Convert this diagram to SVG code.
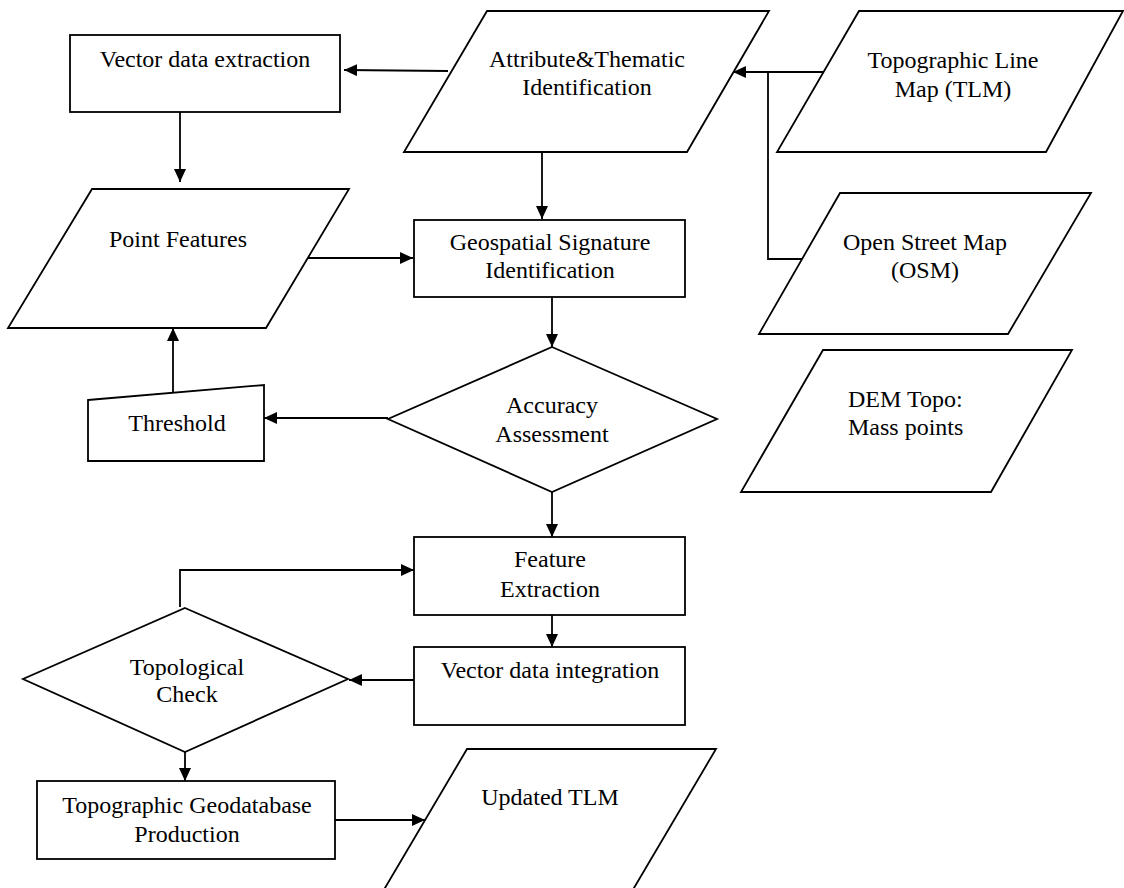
<svg xmlns="http://www.w3.org/2000/svg" width="1124" height="888" viewBox="0 0 1124 888">
<style>
.s{fill:#fff;stroke:#000;stroke-width:1.8}
.t{font-family:"Liberation Serif","Times New Roman",serif;font-size:24px;fill:#000;text-anchor:middle}
.c{fill:none;stroke:#000;stroke-width:1.8}
</style>
<defs>
<marker id="a" markerUnits="userSpaceOnUse" markerWidth="13" markerHeight="12" refX="13" refY="6" orient="auto">
<path d="M0,0 L13,6 L0,12 z" fill="#000"/>
</marker>
</defs>
<rect width="1124" height="888" fill="#fff"/>
<g id="vector-data-extraction">
<rect class="s" x="70" y="35" width="270" height="77"/>
<text class="t" x="205" y="67">Vector data extraction</text>
</g>
<g id="attribute-thematic">
<polygon class="s" points="487,11 769,11 687,152 404,152"/>
<text class="t" x="587" y="67">Attribute&amp;Thematic</text>
<text class="t" x="587" y="95">Identification</text>
</g>
<g id="tlm">
<polygon class="s" points="859,11 1123,11 1046,152 777,152"/>
<text class="t" x="953" y="68">Topographic Line</text>
<text class="t" x="953" y="97">Map (TLM)</text>
</g>
<g id="point-features">
<polygon class="s" points="92,189 349,189 266,328 8,328"/>
<text class="t" x="178" y="247">Point Features</text>
</g>
<g id="geospatial-signature">
<rect class="s" x="414" y="220" width="271" height="77"/>
<text class="t" x="550" y="250">Geospatial Signature</text>
<text class="t" x="550" y="278">Identification</text>
</g>
<g id="osm">
<polygon class="s" points="840,193 1091,193 1008,334 759,334"/>
<text class="t" x="925" y="250">Open Street Map</text>
<text class="t" x="925" y="278">(OSM)</text>
</g>
<g id="dem">
<polygon class="s" points="823,350 1072,350 991,492 741,492"/>
<text class="t" x="848" y="407" style="text-anchor:start">DEM Topo:</text>
<text class="t" x="848" y="435" style="text-anchor:start">Mass points</text>
</g>
<g id="threshold">
<polygon class="s" points="88,400 264,385 264,461 88,461"/>
<text class="t" x="177" y="431">Threshold</text>
</g>
<g id="accuracy-assessment">
<polygon class="s" points="552,347 717,419 552,492 388,419"/>
<text class="t" x="552" y="413">Accuracy</text>
<text class="t" x="552" y="442">Assessment</text>
</g>
<g id="feature-extraction">
<rect class="s" x="414" y="537" width="271" height="78"/>
<text class="t" x="550" y="567">Feature</text>
<text class="t" x="550" y="597">Extraction</text>
</g>
<g id="vector-data-integration">
<rect class="s" x="414" y="647" width="271" height="78"/>
<text class="t" x="550" y="678">Vector data integration</text>
</g>
<g id="topological-check">
<polygon class="s" points="185,608 348,679 185,752 23,679"/>
<text class="t" x="187" y="675">Topological</text>
<text class="t" x="187" y="702">Check</text>
</g>
<g id="topographic-geodatabase">
<rect class="s" x="37" y="781" width="298" height="78"/>
<text class="t" x="187" y="813">Topographic Geodatabase</text>
<text class="t" x="187" y="842">Production</text>
</g>
<g id="updated-tlm">
<polygon class="s" points="467,749 716,749 631,893 382,893"/>
<text class="t" x="550" y="805">Updated TLM</text>
</g>
<g id="connectors">
<path class="c" d="M448,71 L344,70" marker-end="url(#a)"/>
<path class="c" d="M180,112 V182" marker-end="url(#a)"/>
<path class="c" d="M308,258 H413" marker-end="url(#a)"/>
<path class="c" d="M542,152 V219" marker-end="url(#a)"/>
<path class="c" d="M823,72 H733" marker-end="url(#a)"/>
<path class="c" d="M802,259 H768 V72"/>
<path class="c" d="M552,297 V347" marker-end="url(#a)"/>
<path class="c" d="M388,418 H264" marker-end="url(#a)"/>
<path class="c" d="M173,392 V328" marker-end="url(#a)"/>
<path class="c" d="M552,492 V537" marker-end="url(#a)"/>
<path class="c" d="M552,615 V647" marker-end="url(#a)"/>
<path class="c" d="M414,680 H349" marker-end="url(#a)"/>
<path class="c" d="M180,607 V570 H414" marker-end="url(#a)"/>
<path class="c" d="M185,752 V781" marker-end="url(#a)"/>
<path class="c" d="M335,820 H425" marker-end="url(#a)"/>
</g>
</svg>
